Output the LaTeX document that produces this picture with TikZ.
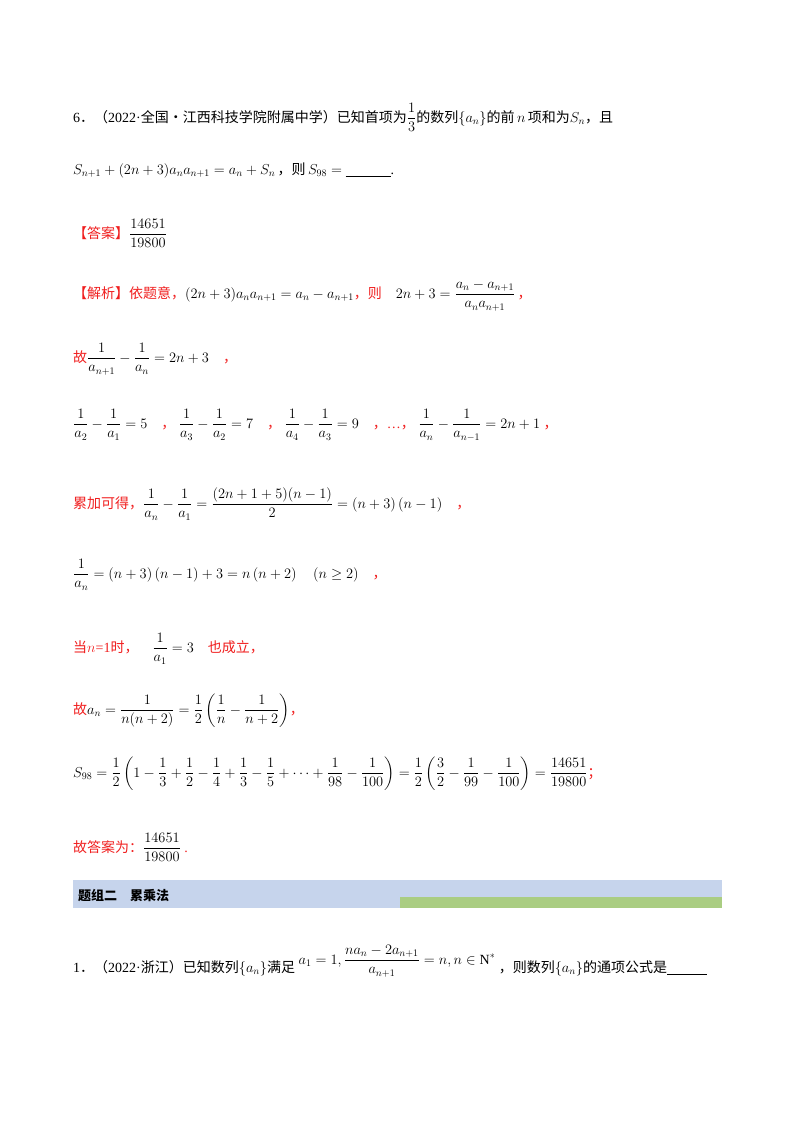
\documentclass[tikz,border=0pt]{standalone}
\usepackage{amsmath,amssymb}
\usepackage{fontspec}
\setmainfont{Liberation Serif}
\newfontfamily\cjk{Noto Sans CJK SC}
\newcommand{\cm}{{\cjk ，}}
\definecolor{rd}{RGB}{240,30,30}
\definecolor{barblue}{RGB}{198,212,236}
\definecolor{bargreen}{RGB}{170,205,130}
\begin{document}
\begin{tikzpicture}[x=1pt,y=-1pt,
  txt/.style={anchor=base west,inner sep=0pt,font=\fontsize{14}{16}\selectfont},
  red/.style={txt,text=rd}]
\useasboundingbox (0,0) rectangle (800,1132);
\node[txt] (l1) at (73,122) {6{\cjk．（}2022·{\cjk 全国·江西科技学院附属中学）已知首项为}$\dfrac{1}{3}${\cjk 的数列}$\{a_n\}${\cjk 的前}$\,n\,${\cjk 项和为}$S_n${\cjk ，且}};
\node[txt] (l2) at (73,174) {$S_{n+1}+(2n+3)a_na_{n+1}=a_n+S_n$\,{\cjk ，则}\,$S_{98}=$\ \underline{\hspace{45pt}}.};
\node[red] (l3) at (73,238) {{\cjk 【答案】}\textcolor{black}{$\dfrac{14651}{19800}$}};
\node[red] (l4) at (73,298) {{\cjk 【解析】依题意，}\textcolor{black}{$(2n+3)a_na_{n+1}=a_n-a_{n+1}$}{\cjk ，则}\quad\textcolor{black}{$2n+3=\dfrac{a_n-a_{n+1}}{a_na_{n+1}}$}\,\cm};
\node[red] (l5) at (73,362) {{\cjk 故}\textcolor{black}{$\dfrac{1}{a_{n+1}}-\dfrac{1}{a_n}=2n+3$}\quad\cm};
\node[red] (l6) at (73,428) {\textcolor{black}{$\dfrac{1}{a_2}-\dfrac{1}{a_1}=5$}\quad\cm\ \textcolor{black}{$\dfrac{1}{a_3}-\dfrac{1}{a_2}=7$}\quad\cm\ \textcolor{black}{$\dfrac{1}{a_4}-\dfrac{1}{a_3}=9$}\quad\cm…\cm\ \textcolor{black}{$\dfrac{1}{a_n}-\dfrac{1}{a_{n-1}}=2n+1$}\ \cm};
\node[red] (l7) at (73,508) {{\cjk 累加可得，}\textcolor{black}{$\dfrac{1}{a_n}-\dfrac{1}{a_1}=\dfrac{(2n+1+5)(n-1)}{2}=\left(n+3\right)\left(n-1\right)$}\quad\cm};
\node[red] (l8) at (73,578) {\textcolor{black}{$\dfrac{1}{a_n}=\left(n+3\right)\left(n-1\right)+3=n\left(n+2\right)\quad\left(n\geq 2\right)$}\quad\cm};
\node[red] (l9) at (73,652) {{\cjk 当}$n$=1{\cjk 时，}\quad\textcolor{black}{$\dfrac{1}{a_1}=3$}\quad{\cjk 也成立，}};
\node[red] (l10) at (73,714) {{\cjk 故}\textcolor{black}{$a_n=\dfrac{1}{n(n+2)}=\dfrac{1}{2}\left(\dfrac{1}{n}-\dfrac{1}{n+2}\right)$}\cm};
\node[red] (l11) at (73,777) {\textcolor{black}{$S_{98}=\dfrac12\left(1-\dfrac13+\dfrac12-\dfrac14+\dfrac13-\dfrac15+\cdots+\dfrac{1}{98}-\dfrac{1}{100}\right)=\dfrac12\left(\dfrac32-\dfrac{1}{99}-\dfrac{1}{100}\right)=\dfrac{14651}{19800}$}{\cjk ；}};
\node[red] (l12) at (73,852) {{\cjk 故答案为：}\textcolor{black}{$\dfrac{14651}{19800}$}\ .};
\fill[barblue] (73,880) rectangle (722,908);
\fill[bargreen] (400,897) rectangle (722,908);
\node[txt,font=\fontsize{13}{15}\selectfont\cjk\bfseries] (bar) at (78,900) {题组二\quad 累乘法};
\node[txt] (q1) at (73,972) {1{\cjk．（}2022·{\cjk 浙江）已知数列}$\{a_n\}${\cjk 满足}\ \raisebox{8pt}{$a_1=1,\dfrac{na_n-2a_{n+1}}{a_{n+1}}=n,n\in\mathrm{N}^*$}\ {\cjk ，则数列}$\{a_n\}${\cjk 的通项公式是}\underline{\hspace{40pt}}};
\end{tikzpicture}
\end{document}
